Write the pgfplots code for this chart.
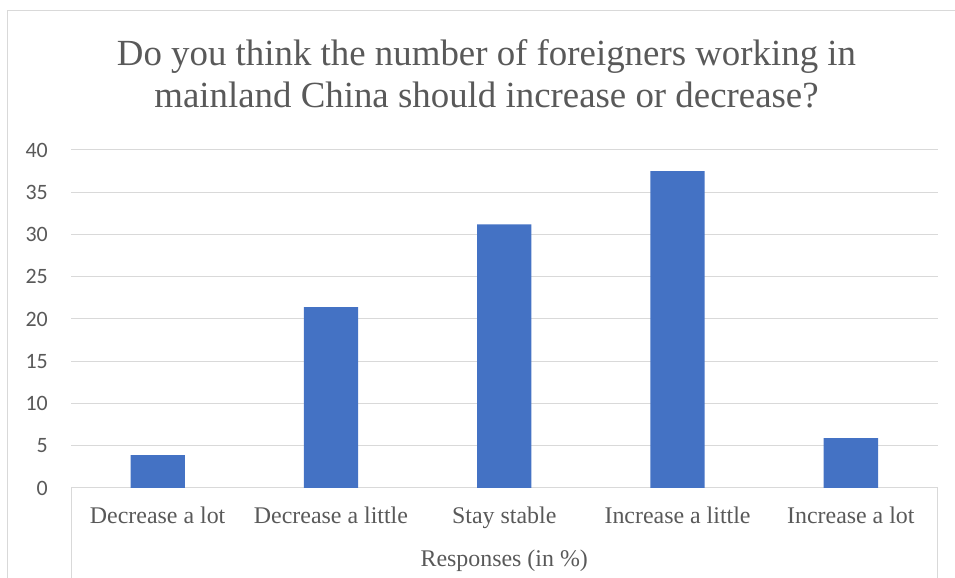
\documentclass[border=0pt]{standalone}
\usepackage{fontspec}
\setmainfont{Liberation Serif}
\newfontfamily\carlito{Carlito}
\usepackage{pgfplots}
\pgfplotsset{compat=1.18}
\definecolor{barblue}{HTML}{4472C4}
\definecolor{txtgray}{HTML}{595959}
\definecolor{gridgray}{HTML}{D9D9D9}
\begin{document}
\begin{tikzpicture}[x=1bp,y=1bp]
\useasboundingbox (0,0) rectangle (955,578);
\clip (0,0) rectangle (955,578);
\draw[gridgray, line width=1bp] (7,-20) -- (7,567) -- (990,567);
\begin{axis}[
  at={(71bp,90bp)}, anchor=south west,
  width=866.5bp, height=338bp, scale only axis,
  xmin=-0.5, xmax=4.5, ymin=0, ymax=40,
  xtick={0,1,2,3,4},
  xticklabels={Decrease a lot, Decrease a little, Stay stable, Increase a little, Increase a lot},
  ytick={0,5,...,40},
  ymajorgrids, grid style={gridgray, line width=1bp},
  axis line style={draw=none},
  major tick length=0pt,
  ybar, bar width=54.3bp,
  tick label style={color=txtgray},
  /pgf/number format/assume math mode=true,
  yticklabel style={font=\carlito\fontsize{22}{26}\selectfont, anchor=east, inner sep=0pt, xshift=-23bp},
  xticklabel style={font=\fontsize{24}{28}\selectfont, anchor=base, inner sep=0pt, yshift=-36bp},
  xlabel={Responses (in \%)},
  xlabel style={at={(axis description cs:0.5,0)}, anchor=base, inner sep=0pt, yshift=-78.5bp, font=\fontsize{24}{28}\selectfont, color=txtgray},
  clip=false,
]
\addplot[fill=barblue, draw=none] coordinates {(0,3.9) (1,21.4) (2,31.2) (3,37.5) (4,5.9)};
\draw[gridgray, line width=1bp] (rel axis cs:0,0) -- ([yshift=-120bp]rel axis cs:0,0);
\draw[gridgray, line width=1bp] (rel axis cs:1,0) -- ([yshift=-120bp]rel axis cs:1,0);
\end{axis}
\node[anchor=base, inner sep=0pt, color=txtgray, font=\fontsize{37}{42}\selectfont] at (486.5,512) {Do you think the number of foreigners working in};
\node[anchor=base, inner sep=0pt, color=txtgray, font=\fontsize{37}{42}\selectfont] at (486.5,470) {mainland China should increase or decrease?};
\end{tikzpicture}
\end{document}
